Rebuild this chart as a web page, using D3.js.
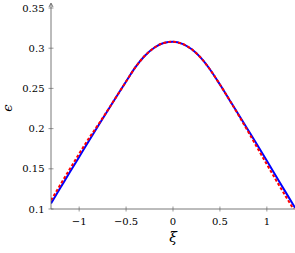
<!DOCTYPE html>
<html>
<head>
<meta charset="utf-8">
<script src="https://cdn.jsdelivr.net/npm/d3@7"></script>
<style>
  html, body { margin: 0; padding: 0; background: #fff; }
  svg { display: block; }
</style>
</head>
<body>
<svg id="chart" width="295" height="253"></svg>
<script>
// xi sample points (step 0.1)
const xi = [-1.3, -1.2, -1.1, -1.0, -0.9, -0.8, -0.7, -0.6, -0.5, -0.4, -0.3, -0.2, -0.1,
  0.0, 0.1, 0.2, 0.3, 0.4, 0.5, 0.6, 0.7, 0.8, 0.9, 1.0, 1.1, 1.2, 1.3];

// blue solid curve
const blueEps = [0.1070, 0.1263, 0.1456, 0.1648, 0.1840, 0.2029, 0.2216, 0.2403, 0.2585,
  0.2764, 0.2906, 0.3006, 0.3064, 0.3080, 0.3054, 0.2986, 0.2876, 0.2726, 0.2548, 0.2360,
  0.2172, 0.1983, 0.1793, 0.1600, 0.1405, 0.1210, 0.1016];

// red dashed curve
const redEps = [0.1108, 0.1303, 0.1496, 0.1688, 0.1872, 0.2044, 0.2221, 0.2403, 0.2585,
  0.2764, 0.2906, 0.3006, 0.3064, 0.3080, 0.3054, 0.2986, 0.2876, 0.2726, 0.2548, 0.2360,
  0.2164, 0.1963, 0.1758, 0.1555, 0.1355, 0.1160, 0.0966];

const xTicks = [-1, -0.5, 0, 0.5, 1];
const yTicks = [0.1, 0.15, 0.2, 0.25, 0.3, 0.35];

const svg = d3.select("#chart");
const axisColor = "#555";
const serif = "DejaVu Serif";

const x = d3.scaleLinear().domain([-1.3, 1.3]).range([51, 295]);
const y = d3.scaleLinear().domain([0.1, 0.35]).range([209, 8]);

const fmt = v => String(+v.toFixed(2)).replace("-", "\u2212");

// --- curves (clipped to plot area) ---
svg.append("clipPath").attr("id", "plotclip")
  .append("rect").attr("x", 51).attr("y", 0).attr("width", 244).attr("height", 209);

const line = d3.line()
  .x(d => x(d[0]))
  .y(d => y(d[1]))
  .curve(d3.curveMonotoneX);

const g = svg.append("g").attr("clip-path", "url(#plotclip)");

g.append("path")
  .datum(xi.map((v, i) => [v, blueEps[i]]))
  .attr("d", line)
  .attr("fill", "none")
  .attr("stroke", "#0000ff")
  .attr("stroke-width", 2);

g.append("path")
  .datum(xi.map((v, i) => [v, redEps[i]]))
  .attr("d", line)
  .attr("fill", "none")
  .attr("stroke", "#ff0000")
  .attr("stroke-width", 2)
  .attr("stroke-dasharray", "3,2");

// --- axes ---
const ax = svg.append("g");

// y axis line with arrow
ax.append("line")
  .attr("x1", x(-1.3)).attr("x2", x(-1.3))
  .attr("y1", 209).attr("y2", 4)
  .attr("stroke", axisColor).attr("stroke-width", 0.8);
ax.append("path")
  .attr("d", `M${x(-1.3) - 2},7 L${x(-1.3)},3 L${x(-1.3) + 2},7`)
  .attr("fill", "none").attr("stroke", axisColor).attr("stroke-width", 0.8);

// x axis line
ax.append("line")
  .attr("x1", 51).attr("x2", 296)
  .attr("y1", 209).attr("y2", 209)
  .attr("stroke", axisColor).attr("stroke-width", 0.8);

// y ticks
yTicks.forEach(t => {
  ax.append("line")
    .attr("x1", 48.5).attr("x2", 53.5)
    .attr("y1", y(t)).attr("y2", y(t))
    .attr("stroke", axisColor).attr("stroke-width", 0.6);
  ax.append("text")
    .attr("x", 44.5).attr("y", y(t) + 3.6)
    .attr("text-anchor", "end")
    .style("font-family", serif)
    .style("font-size", "10px")
    .text(fmt(t));
});

// x ticks
xTicks.forEach(t => {
  ax.append("line")
    .attr("x1", x(t)).attr("x2", x(t))
    .attr("y1", 206.5).attr("y2", 211.5)
    .attr("stroke", axisColor).attr("stroke-width", 0.6);
  ax.append("text")
    .attr("x", x(t)).attr("y", 225)
    .attr("text-anchor", "middle")
    .style("font-family", serif)
    .style("font-size", "10px")
    .text(fmt(t));
});

// axis titles
svg.append("text")
  .attr("x", x(0)).attr("y", 242)
  .attr("text-anchor", "middle")
  .style("font-family", serif)
  .style("font-style", "italic")
  .style("font-size", "14px")
  .text("\u03BE");

svg.append("text")
  .attr("transform", "translate(11.5,108) rotate(-90)")
  .attr("text-anchor", "middle")
  .style("font-family", serif)
  .style("font-style", "italic")
  .style("font-size", "13px")
  .text("\u03F5");
</script>
</body>
</html>
